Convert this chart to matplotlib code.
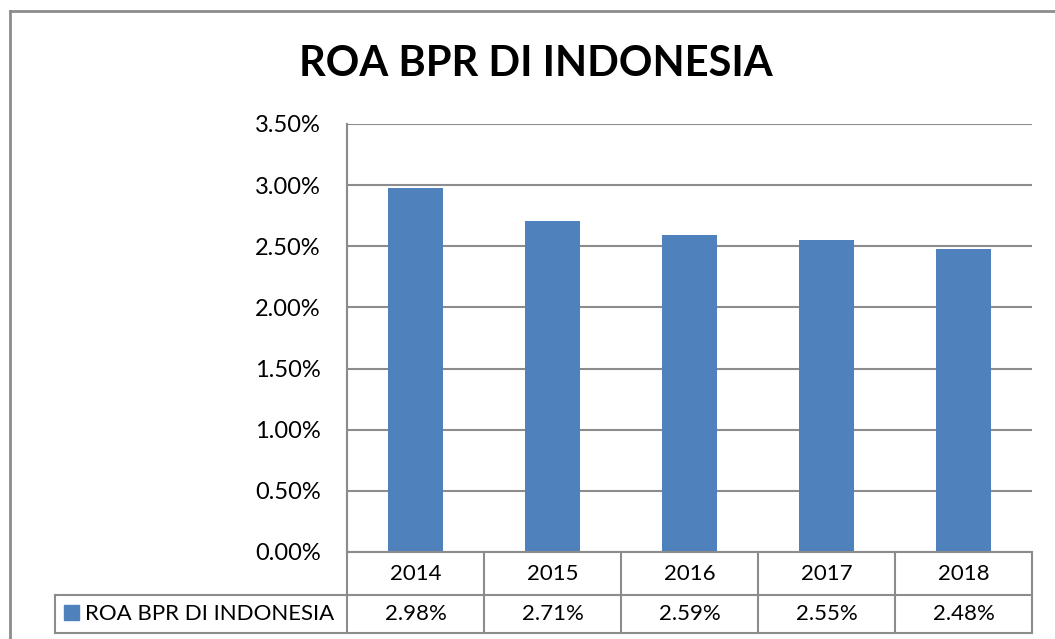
import matplotlib.pyplot as plt
from matplotlib.lines import Line2D
from matplotlib.patches import Rectangle

years = ["2014", "2015", "2016", "2017", "2018"]
roa = [2.98, 2.71, 2.59, 2.55, 2.48]
series_name = "ROA BPR DI INDONESIA"
title = "ROA BPR DI INDONESIA"

W, H = 1055, 639
blue = "#4F81BD"
grey = "#8C8C8C"
plt.rcParams["font.family"] = ["Lato", "DejaVu Sans"]

fig = plt.figure(figsize=(W / 100, H / 100), dpi=100)


def fx(px):
    return px / W


def fy(py):
    return 1 - py / H


# plot area in pixels
left, right, top, bottom = 347, 1032, 124, 552
ax = fig.add_axes([fx(left), fy(bottom), fx(right - left), fy(top) - fy(bottom)])
x = range(len(years))
ax.bar(x, roa, width=0.4, color=blue, zorder=3)
ax.set_xlim(-0.5, len(years) - 0.5)
ax.set_ylim(0, 3.5)
ax.set_yticks([i * 0.5 for i in range(8)])
ax.set_yticklabels([f"{i * 0.5:.2f}%" for i in range(8)], fontsize=17)
ax.tick_params(axis="y", length=0, pad=19)
ax.set_xticks([])
ax.grid(axis="y", color=grey, linewidth=1.5, zorder=0)
for s in ["top", "right", "bottom"]:
    ax.spines[s].set_visible(False)
ax.spines["left"].set_color(grey)
ax.spines["left"].set_linewidth(1.5)

fig.text(fx(536), fy(64), title, fontsize=30, fontweight="bold", ha="center", va="center")


def hline(x0, x1, y):
    fig.add_artist(Line2D([fx(x0), fx(x1)], [fy(y), fy(y)], color=grey, lw=1.5))


def vline(xp, y0, y1):
    fig.add_artist(Line2D([fx(xp), fx(xp)], [fy(y0), fy(y1)], color=grey, lw=1.5))


# data table under the axis
row1, row2, row3 = 552, 595, 633
legend_left = 55
col_w = (right - left) / len(years)
hline(left, right, row1)
hline(legend_left, right, row2)
hline(legend_left, right, row3)
vline(left, top, row3)
vline(legend_left, row2, row3)
vline(right, row1, row3)
for i in range(1, len(years)):
    vline(left + i * col_w, row1, row3)
for i, (yr, v) in enumerate(zip(years, roa)):
    cx = left + (i + 0.5) * col_w
    fig.text(fx(cx), fy((row1 + row2) / 2), yr, fontsize=16, ha="center", va="center")
    fig.text(fx(cx), fy((row2 + row3) / 2), f"{v:.2f}%", fontsize=16, ha="center", va="center")
fig.add_artist(Rectangle((fx(64), fy(620)), fx(15), fy(605) - fy(620), color=blue))
fig.text(fx(85), fy((row2 + row3) / 2), series_name, fontsize=16, ha="left", va="center")

# chart border
fig.add_artist(Line2D([fx(10), fx(10)], [fy(11), 0], color=grey, lw=2))
fig.add_artist(Line2D([fx(10), 1], [fy(11), fy(11)], color=grey, lw=2))

fig.savefig("out.png", dpi=100)
